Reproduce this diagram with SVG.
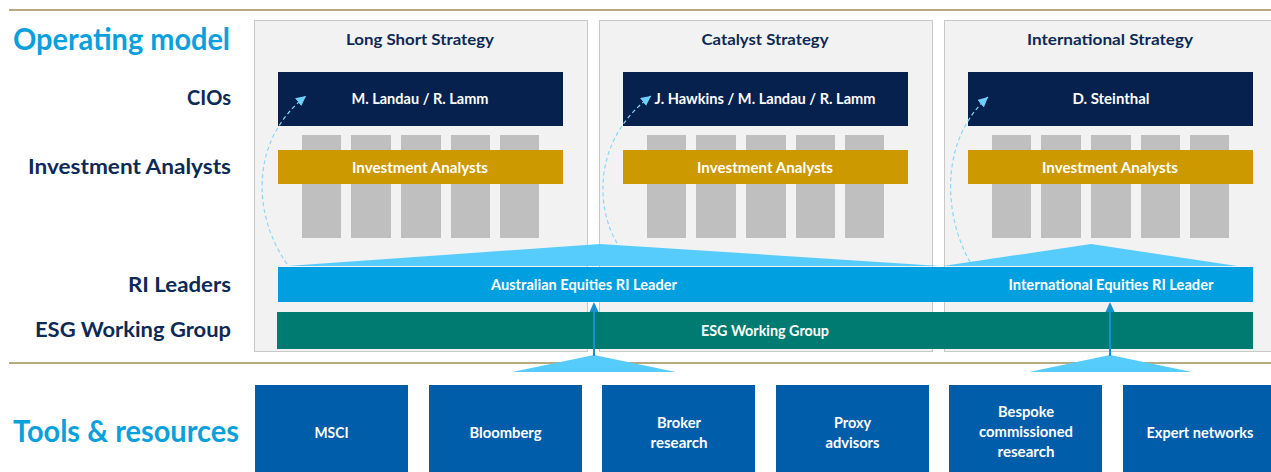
<svg xmlns="http://www.w3.org/2000/svg" width="1271" height="472" viewBox="0 0 1271 472">
  <defs>
    <style>
      .t { font-family: Lato, "Liberation Sans", sans-serif; font-weight: bold; }
      .hdr { fill: #0AA0DC; font-size: 31px; }
      .lbl { fill: #0C2A55; font-size: 20px; text-anchor: end; }
      .ttl { fill: #0C2A55; font-size: 16px; text-anchor: middle; }
      .w { fill: #FFFFFF; font-size: 15px; text-anchor: middle; }
      .panel { fill: #F2F2F2; stroke: #C8C8C8; stroke-width: 1; }
      .cio { fill: #06214D; }
      .col { fill: #BFBFBF; }
      .ia { fill: #CC9900; }
      .ri { fill: #00A0E0; }
      .esg { fill: #007B71; }
      .tool { fill: #005DAA; }
      .fan { fill: #56CCFD; }
      .rule { stroke: #B8AA80; stroke-width: 2; }
      .loop { fill: none; stroke: #8AD6F6; stroke-width: 1.2; stroke-dasharray: 4 3; }
      .up { stroke: #1590D0; stroke-width: 2; }
    </style>
    <marker id="head" viewBox="0 0 10 10" refX="10" refY="5" markerWidth="10" markerHeight="10" markerUnits="userSpaceOnUse" orient="auto">
      <path d="M0,0 L10,5 L0,10 z" fill="#6DD0FA" stroke="none"/>
    </marker>
    <!-- one column of analyst blocks, reused in each strategy panel -->
    <g id="cols">
      <rect class="col" x="24" y="63" width="39" height="103"/>
      <rect class="col" x="73" y="63" width="40" height="103"/>
      <rect class="col" x="123" y="63" width="40" height="103"/>
      <rect class="col" x="173" y="63" width="39" height="103"/>
      <rect class="col" x="222" y="63" width="39" height="103"/>
    </g>
  </defs>

  <rect width="1271" height="472" fill="#FFFFFF"/>

  <!-- horizontal rules -->
  <line class="rule" x1="9" y1="10" x2="1271" y2="10"/>
  <line class="rule" x1="9" y1="363" x2="1271" y2="363"/>

  <!-- row headings -->
  <g id="headings">
    <text class="t hdr" x="13" y="50" textLength="217" lengthAdjust="spacingAndGlyphs">Operating model</text>
    <text class="t lbl" x="231" y="105" textLength="44" lengthAdjust="spacingAndGlyphs">CIOs</text>
    <text class="t lbl" x="231" y="174" textLength="203" lengthAdjust="spacingAndGlyphs">Investment Analysts</text>
    <text class="t lbl" x="231" y="292" textLength="103" lengthAdjust="spacingAndGlyphs">RI Leaders</text>
    <text class="t lbl" x="231" y="337" textLength="196" lengthAdjust="spacingAndGlyphs">ESG Working Group</text>
    <text class="t hdr" x="13" y="442" font-size="30" textLength="226" lengthAdjust="spacingAndGlyphs">Tools &amp; resources</text>
  </g>

  <!-- strategy panels -->
  <g id="long-short">
    <rect class="panel" x="254.5" y="20.5" width="333" height="331"/>
    <text class="t ttl" x="420" y="45" textLength="148" lengthAdjust="spacingAndGlyphs">Long Short Strategy</text>
    <rect class="cio" x="278" y="72" width="285" height="54"/>
    <text class="t w" x="420" y="104" textLength="137" lengthAdjust="spacingAndGlyphs">M. Landau / R. Lamm</text>
    <use href="#cols" x="278" y="72"/>
    <rect class="ia" x="278" y="150" width="285" height="34"/>
    <text class="t w" x="420" y="173" textLength="136" lengthAdjust="spacingAndGlyphs">Investment Analysts</text>
  </g>

  <g id="catalyst">
    <rect class="panel" x="599.5" y="20.5" width="333" height="331"/>
    <text class="t ttl" x="765" y="45" textLength="127" lengthAdjust="spacingAndGlyphs">Catalyst Strategy</text>
    <rect class="cio" x="623" y="72" width="285" height="54"/>
    <text class="t w" x="765" y="104" textLength="221" lengthAdjust="spacingAndGlyphs">J. Hawkins / M. Landau / R. Lamm</text>
    <use href="#cols" x="623" y="72"/>
    <rect class="ia" x="623" y="150" width="285" height="34"/>
    <text class="t w" x="765" y="173" textLength="136" lengthAdjust="spacingAndGlyphs">Investment Analysts</text>
  </g>

  <g id="international">
    <rect class="panel" x="944.5" y="20.5" width="333" height="331"/>
    <text class="t ttl" x="1110" y="45" textLength="166" lengthAdjust="spacingAndGlyphs">International Strategy</text>
    <rect class="cio" x="968" y="72" width="285" height="54"/>
    <text class="t w" x="1111" y="104" textLength="77" lengthAdjust="spacingAndGlyphs">D. Steinthal</text>
    <use href="#cols" x="968" y="72"/>
    <rect class="ia" x="968" y="150" width="285" height="34"/>
    <text class="t w" x="1110" y="173" textLength="136" lengthAdjust="spacingAndGlyphs">Investment Analysts</text>
  </g>

  <!-- RI leader fans -->
  <g id="fans">
    <polygon class="fan" points="287,266 600,244 940,266"/>
    <polygon class="fan" points="943,266 1091,244 1237,266"/>
  </g>

  <g id="ri-leaders">
    <rect class="ri" x="278" y="267" width="975" height="35"/>
    <text class="t w" x="584" y="290" textLength="186" lengthAdjust="spacingAndGlyphs">Australian Equities RI Leader</text>
    <text class="t w" x="1111" y="290" textLength="205" lengthAdjust="spacingAndGlyphs">International Equities RI Leader</text>
  </g>

  <g id="esg-working-group">
    <rect class="esg" x="277" y="312" width="976" height="37"/>
    <text class="t w" x="765" y="336" textLength="128" lengthAdjust="spacingAndGlyphs">ESG Working Group</text>
  </g>

  <!-- connectors -->
  <g id="connectors">
    <path class="loop" d="M287,264 C252,214 250,140 306,96" marker-end="url(#head)"/>
    <path class="loop" d="M617,243 C596,208 592,140 651,96" marker-end="url(#head)"/>
    <path class="loop" d="M970,262 C943,214 940,140 988,97" marker-end="url(#head)"/>

    <polygon class="fan" points="512,372 594,355 676,372"/>
    <line class="up" x1="594" y1="356" x2="594" y2="310"/>
    <polygon points="594,302 589.5,312 598.5,312" fill="#1590D0"/>

    <polygon class="fan" points="1029,372 1110,355 1192,372"/>
    <line class="up" x1="1110" y1="356" x2="1110" y2="310"/>
    <polygon points="1110,302 1105.5,312 1114.5,312" fill="#1590D0"/>
  </g>

  <!-- tools and resources -->
  <g id="msci">
    <rect class="tool" x="255" y="385" width="153" height="90"/>
    <text class="t w" x="331.5" y="438" textLength="34" lengthAdjust="spacingAndGlyphs">MSCI</text>
  </g>
  <g id="bloomberg">
    <rect class="tool" x="429" y="385" width="153" height="90"/>
    <text class="t w" x="505.5" y="438" textLength="72" lengthAdjust="spacingAndGlyphs">Bloomberg</text>
  </g>
  <g id="broker-research">
    <rect class="tool" x="602" y="385" width="153" height="90"/>
    <text class="t w" x="679" y="428" textLength="44" lengthAdjust="spacingAndGlyphs">Broker</text>
    <text class="t w" x="679" y="448" textLength="57" lengthAdjust="spacingAndGlyphs">research</text>
  </g>
  <g id="proxy-advisors">
    <rect class="tool" x="776" y="385" width="153" height="90"/>
    <text class="t w" x="852.5" y="428" textLength="37" lengthAdjust="spacingAndGlyphs">Proxy</text>
    <text class="t w" x="852.5" y="448" textLength="54" lengthAdjust="spacingAndGlyphs">advisors</text>
  </g>
  <g id="bespoke-research">
    <rect class="tool" x="949" y="385" width="153" height="90"/>
    <text class="t w" x="1026" y="417" textLength="56" lengthAdjust="spacingAndGlyphs">Bespoke</text>
    <text class="t w" x="1026" y="437" textLength="94" lengthAdjust="spacingAndGlyphs">commissioned</text>
    <text class="t w" x="1026" y="457" textLength="57" lengthAdjust="spacingAndGlyphs">research</text>
  </g>
  <g id="expert-networks">
    <rect class="tool" x="1123" y="385" width="153" height="90"/>
    <text class="t w" x="1200" y="438" textLength="107" lengthAdjust="spacingAndGlyphs">Expert networks</text>
  </g>
</svg>
